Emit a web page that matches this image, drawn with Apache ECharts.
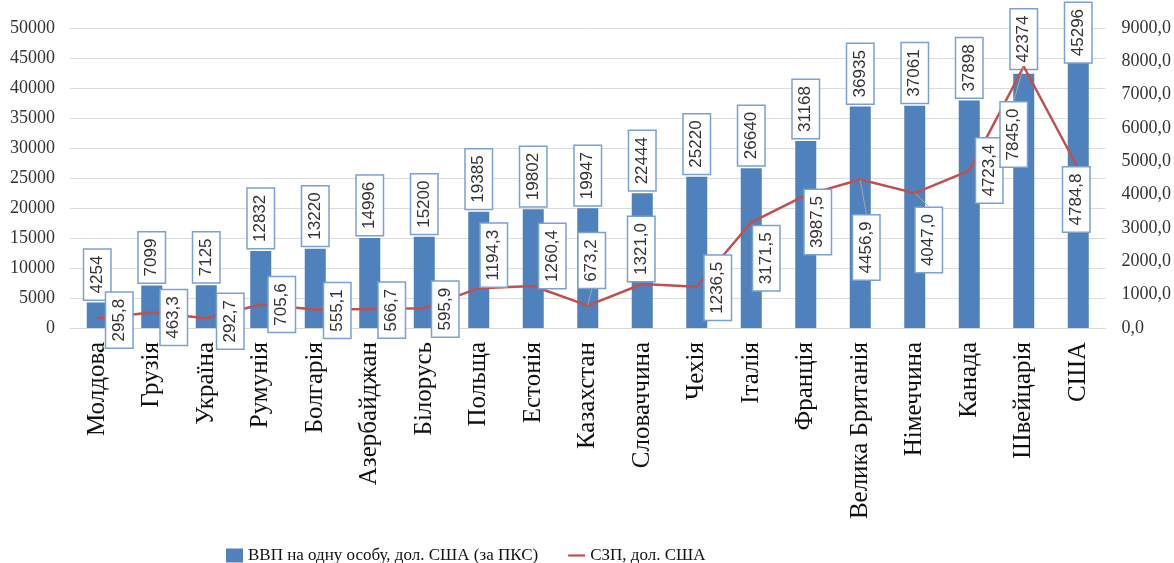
<!DOCTYPE html>
<html>
<head>
<meta charset="utf-8">
<script src="https://cdn.jsdelivr.net/npm/echarts@6/dist/echarts.min.js"></script>
<style>
html,body{margin:0;padding:0;background:#fff;}
#chart{width:1174px;height:563px;}
</style>
</head>
<body>
<div id="chart"></div>
<script>
// ---- data ----
const countries = ['Молдова','Грузія','Україна','Румунія','Болгарія','Азербайджан','Білорусь','Польща','Естонія','Казахстан','Словаччина','Чехія','Італія','Франція','Велика Британія','Німеччина','Канада','Швейцарія','США'];
const gdpPerCapita = [4254,7099,7125,12832,13220,14996,15200,19385,19802,19947,22444,25220,26640,31168,36935,37061,37898,42374,45296];
const avgWage = [295.8,463.3,292.7,705.6,555.1,566.7,595.9,1194.3,1260.4,673.2,1321.0,1236.5,3171.5,3987.5,4456.9,4047.0,4723.4,7845.0,4784.8];
const seriesNames = ['ВВП на одну особу, дол. США (за ПКС)','СЗП, дол. США'];

// ---- label placement (layout only, screen px shifts) ----
const wageLabelShift = [[22,2],[22,5],[24,3],[21,0],[22,1],[22,1],[21,1],[15,-33],[19,-30],[4,-45],[-1,-35],[21,1],[15,36],[12,27],[6,68],[14,47],[20,0],[-10,68],[-2,31]];
const wageLeader = [9,14,15,17];
const gdpLabelShift = {18:[0,9], 17:[0,-2]};
// labels are rotated 90deg, so the layout shift is expressed in the label's own frame
const toLabelFrame = s => ({dx:-s[1], dy:s[0]});

const serif = '"Liberation Serif","Times New Roman",serif';
const sans = '"Liberation Sans",Arial,sans-serif';
const boxLabel = {
  show:true, rotate:90, fontFamily:sans, fontSize:17, color:'#333',
  backgroundColor:'#fff', borderColor:'#7ba0d4', borderWidth:1.5,
  padding:[5,6], lineHeight:16
};

const chart = echarts.init(document.getElementById('chart'), null, {renderer:'canvas'});
chart.setOption({
  animation:false,
  grid:{left:70, right:67, top:28, bottom:235},
  legend:{
    top:542, left:221, itemGap:30, itemWidth:17, itemHeight:14,
    textStyle:{fontFamily:serif, fontSize:17, color:'#111'},
    data:[{name:seriesNames[0], icon:'rect'},
          {name:seriesNames[1], icon:'path://M0,0 L20,0 L20,2.6 L0,2.6 Z'}]
  },
  xAxis:{
    type:'category', data:countries,
    axisTick:{show:false},
    axisLine:{lineStyle:{color:'#d9d9d9'}},
    axisLabel:{rotate:90, interval:0, margin:14, fontFamily:serif, fontSize:25, color:'#111'}
  },
  yAxis:[
    {type:'value', min:0, max:50000, interval:5000,
     axisLine:{show:false}, axisTick:{show:false},
     splitLine:{lineStyle:{color:'#dcdcdc'}},
     axisLabel:{fontFamily:serif, fontSize:18, color:'#333', margin:15, formatter:v=>String(v)}},
    {type:'value', min:0, max:9000, interval:1000, position:'right',
     axisLine:{show:false}, axisTick:{show:false}, splitLine:{show:false},
     axisLabel:{fontFamily:serif, fontSize:18, color:'#333', margin:16,
       formatter:v=>v.toFixed(1).replace('.',',')}}
  ],
  series:[
    {name:seriesNames[0], type:'bar', yAxisIndex:0, barWidth:21,
     itemStyle:{color:'#4f81bd'},
     data:gdpPerCapita,
     label:Object.assign({}, boxLabel, {position:'top', align:'left', verticalAlign:'middle', distance:3}),
     labelLayout:function(p){
       const s = gdpLabelShift[p.dataIndex];
       return s ? toLabelFrame(s) : {};
     }
    },
    {name:seriesNames[1], type:'line', yAxisIndex:1, symbol:'circle', symbolSize:1, showSymbol:true,
     lineStyle:{color:'#c0504d', width:2.5}, itemStyle:{color:'#c0504d'},
     data:avgWage.map((v,i)=>({value:v, labelLine:{show: wageLeader.indexOf(i)>=0}})),
     label:Object.assign({}, boxLabel, {position:'inside', align:'center', verticalAlign:'middle',
       formatter:p=>p.value.toFixed(1).replace('.',',')}),
     labelLine:{show:false, lineStyle:{color:'#a6a6a6', width:1}},
     labelLayout:function(p){
       return toLabelFrame(wageLabelShift[p.dataIndex]);
     },
     z:3
    }
  ]
});
</script>
</body>
</html>
